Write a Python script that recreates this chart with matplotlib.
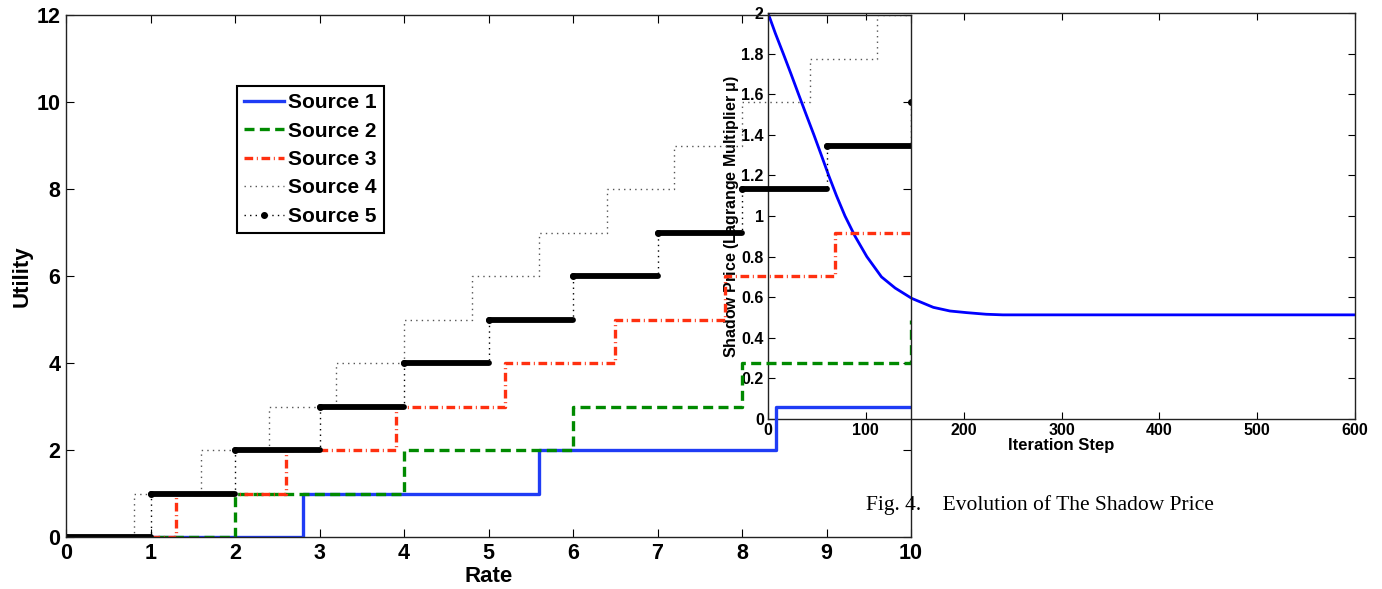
import numpy as np
import matplotlib
matplotlib.use("Agg")
import matplotlib.pyplot as plt

plt.rcParams['font.family'] = ['Liberation Sans', 'DejaVu Sans']
plt.rcParams['font.weight'] = 'bold'

# utility vs rate, one step function per source (breakpoints, levels)
s1_rate = [0, 2.8, 5.6, 8.4, 10]
s1_util = [0, 1, 2, 3, 3]
s2_rate = [0, 2, 4, 6, 8, 10]
s2_util = [0, 1, 2, 3, 4, 5]
s3_rate = [0, 1.3, 2.6, 3.9, 5.2, 6.5, 7.8, 9.1, 10]
s3_util = [0, 1, 2, 3, 4, 5, 6, 7, 7]
s4_rate = [0, 0.8, 1.6, 2.4, 3.2, 4.0, 4.8, 5.6, 6.4, 7.2, 8.0, 8.8, 9.6, 10]
s4_util = [0, 1, 2, 3, 4, 5, 6, 7, 8, 9, 10, 11, 12, 12]
s5_rate = [0, 1, 2, 3, 4, 5, 6, 7, 8, 9, 10]
s5_util = [0, 1, 2, 3, 4, 5, 6, 7, 8, 9, 10]

# shadow price vs iteration step
iters = [0, 7.5, 15.6, 23.5, 31.2, 39, 46.9, 54.5, 62, 70, 78.7, 89, 101, 116, 130,
         147, 169, 186, 203, 223, 240, 400, 600]
price = [2.0, 1.9, 1.8, 1.7, 1.6, 1.5, 1.4, 1.3, 1.2, 1.1, 1.0, 0.9, 0.8, 0.7, 0.645,
         0.594, 0.55, 0.532, 0.524, 0.516, 0.513, 0.513, 0.513]

fig = plt.figure(figsize=(13.82, 5.89), dpi=100)

# right figure (shadow price)
ax2 = fig.add_axes([768/1382, 1-419/589, 587/1382, 406/589])
ax2.set_facecolor('none')
ax2.plot(iters, price, color='#0000ff', lw=2.0)
ax2.set_xlim(0, 600)
ax2.set_ylim(0, 2)
ax2.set_xticks([0, 100, 200, 300, 400, 500, 600])
ax2.set_yticks(np.arange(0, 2.01, 0.2))
ax2.set_yticklabels(['0', '0.2', '0.4', '0.6', '0.8', '1', '1.2', '1.4', '1.6', '1.8', '2'])
ax2.tick_params(direction='in', top=True, right=True, length=5, labelsize=11.5, pad=3)
ax2.set_xlabel('Iteration Step', fontsize=12, fontweight='bold', labelpad=0)
ax2.set_ylabel('Shadow Price (Lagrange Multiplier $\\mathregular{\\mu}$)', fontsize=11.5,
               fontweight='bold', labelpad=0)
for sp in ax2.spines.values():
    sp.set_linewidth(1.0)
    sp.set_color('#222222')

# left figure (utility)
ax = fig.add_axes([66/1382, 1-537/589, 845/1382, 522/589])
ax.set_facecolor('none')
ax.step(s1_rate, s1_util, where='post', color='#1f3cf5', lw=2.4, label='Source 1')
ax.step(s2_rate, s2_util, where='post', color='#008a00', lw=2.4, ls=(0, (3, 1.6)),
        label='Source 2')
ax.step(s3_rate, s3_util, where='post', color='#ff3010', lw=2.4, ls=(0, (2.6, 1.1, 0.3, 1.1)),
        label='Source 3')
ax.step(s4_rate, s4_util, where='post', color='#555555', lw=1.0, ls=(0, (1, 3)),
        label='Source 4')
ax.step(s5_rate, s5_util, where='post', color='black', lw=1.0, ls=(0, (1, 3)),
        marker='o', ms=4, label='Source 5')
ax.hlines(s5_util[:-1], s5_rate[:-1], s5_rate[1:], color='black', lw=4.2, capstyle='round')
ax.set_xlim(0, 10)
ax.set_ylim(0, 12)
ax.set_xticks(range(0, 11))
ax.set_yticks(range(0, 13, 2))
ax.tick_params(direction='in', top=True, right=True, length=6, labelsize=15.5, pad=4)
ax.set_xlabel('Rate', fontsize=16, fontweight='bold', labelpad=2)
ax.set_ylabel('Utility', fontsize=16, fontweight='bold', labelpad=3)
for sp in ax.spines.values():
    sp.set_linewidth(1.0)
    sp.set_color('#222222')
leg = ax.legend(loc='upper left', bbox_to_anchor=(171/845, 451/522), borderaxespad=0,
                fancybox=False, framealpha=1, edgecolor='black', fontsize=15,
                handlelength=1.9, labelspacing=0.45, borderpad=0.35, handletextpad=0.2)
leg.get_frame().set_linewidth(1.5)
leg.get_frame().set_facecolor('none')

fig.text(866/1382, 1-505/589, 'Fig. 4.    Evolution of The Shadow Price',
         family='Liberation Serif', fontweight='normal', fontsize=15.5, va='center')

plt.savefig('out.png', dpi=100)
